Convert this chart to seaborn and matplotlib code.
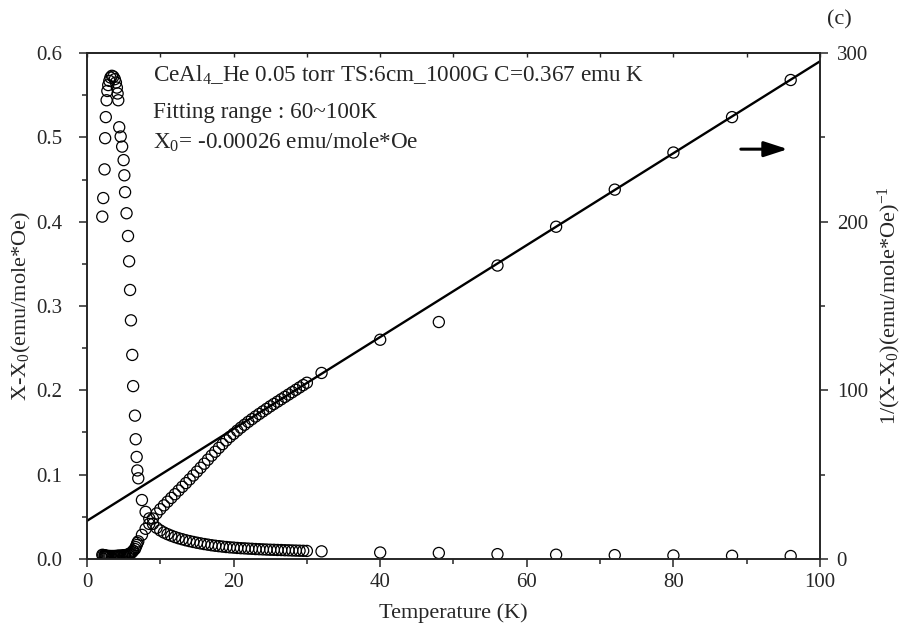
import matplotlib
matplotlib.use("Agg")
import matplotlib.pyplot as plt
import pandas as pd
import seaborn as sns
from matplotlib.ticker import MultipleLocator

# Measured temperatures (K)
temperature = [
    2.09, 2.22, 2.40, 2.48, 2.57, 2.68, 2.78, 2.90, 3.05, 3.20, 3.40, 3.60,
    3.80, 3.95, 4.08, 4.18, 4.27, 4.40, 4.60, 4.80, 5.00, 5.10, 5.20, 5.40,
    5.60, 5.75, 5.88, 6.00, 6.18, 6.30, 6.55, 6.65, 6.78, 6.87, 7.00,
    7.5, 8.0, 8.5, 9.0, 9.5, 10.0, 10.5, 11.0, 11.5, 12.0, 12.5, 13.0, 13.5,
    14.0, 14.5, 15.0, 15.5, 16.0, 16.5, 17.0, 17.5, 18.0, 18.5, 19.0, 19.5,
    20.0, 20.5, 21.0, 21.5, 22.0, 22.5, 23.0, 23.5, 24.0, 24.5, 25.0, 25.5,
    26.0, 26.5, 27.0, 27.5, 28.0, 28.5, 29.0, 29.5, 30.0,
    32.0, 40.0, 48.0, 56.0, 64.0, 72.0, 80.0, 88.0, 96.0,
]

# chi - chi0 (emu/mole*Oe)
chi = [
    0.406, 0.428, 0.462, 0.499, 0.524, 0.544, 0.555, 0.562, 0.567, 0.571, 0.573, 0.572,
    0.569, 0.565, 0.559, 0.552, 0.544, 0.512, 0.501, 0.489, 0.473, 0.455, 0.435, 0.410,
    0.383, 0.353, 0.319, 0.283, 0.242, 0.205, 0.170, 0.142, 0.121, 0.105, 0.0957,
    0.0699, 0.0559, 0.0481, 0.0417, 0.0370, 0.0339, 0.0314, 0.0294, 0.0276, 0.0260,
    0.0246, 0.0234, 0.0222, 0.0212, 0.0202, 0.0193, 0.0185, 0.0177, 0.0170, 0.0163,
    0.0157, 0.0152, 0.0147, 0.0142, 0.0138, 0.0135, 0.0131, 0.0128, 0.0126, 0.0123,
    0.0121, 0.0118, 0.0116, 0.0114, 0.0112, 0.0110, 0.0109, 0.0107, 0.0106, 0.0104,
    0.0103, 0.0101, 0.00997, 0.00983, 0.00970, 0.00957,
    0.00907, 0.00769, 0.00712, 0.00575, 0.00508, 0.00457, 0.00415, 0.00382, 0.00352,
]

# 1/(chi - chi0) (emu/mole*Oe)^-1
inv_chi = [
    2.46, 2.34, 2.16, 2.00, 1.91, 1.84, 1.80, 1.78, 1.76, 1.75, 1.75, 1.75,
    1.76, 1.77, 1.79, 1.81, 1.84, 1.95, 2.00, 2.04, 2.11, 2.20, 2.30, 2.44,
    2.61, 2.83, 3.13, 3.53, 4.13, 4.88, 5.88, 7.04, 8.26, 9.52, 10.45,
    14.3, 17.9, 20.8, 24.0, 27.0, 29.5, 31.8, 34.0, 36.2, 38.4,
    40.6, 42.8, 45.0, 47.2, 49.5, 51.8, 54.1, 56.5, 58.9, 61.3,
    63.6, 65.9, 68.1, 70.3, 72.4, 74.2, 76.1, 77.9, 79.6, 81.3,
    82.9, 84.5, 86.0, 87.5, 89.0, 90.5, 91.9, 93.3, 94.7, 96.1,
    97.5, 98.9, 100.3, 101.7, 103.1, 104.5,
    110.3, 130.0, 140.5, 174.0, 197.0, 219.0, 241.0, 262.0, 284.0,
]

# Curie-Weiss fit parameters
curie_C = 0.367      # emu K / mole
theta_cw = -8.3      # K
fit_T = [0.0, 100.0]

sns.set_theme(style="ticks")
plt.rcParams["font.family"] = ["Liberation Serif", "DejaVu Serif"]
plt.rcParams["mathtext.fontset"] = "custom"
plt.rcParams["mathtext.rm"] = "Liberation Serif"
plt.rcParams["mathtext.it"] = "Liberation Serif:italic"
plt.rcParams["mathtext.default"] = "regular"

df = pd.DataFrame({"T": temperature, "chi": chi, "inv": inv_chi})
fit = pd.DataFrame({"T": fit_T})
fit["inv"] = (fit["T"] - theta_cw) / curie_C

fig = plt.figure(figsize=(9.03, 6.35), dpi=100)
ax = fig.add_axes([0.0963, 0.1197, 0.8118, 0.7968])
ax2 = ax.twinx()

marker_kw = dict(marker="o", s=64, facecolor="none", edgecolor="black", linewidth=0.9)
sns.scatterplot(data=df, x="T", y="chi", ax=ax, **marker_kw)
sns.scatterplot(data=df, x="T", y="inv", ax=ax2, **marker_kw)
sns.lineplot(data=fit, x="T", y="inv", ax=ax2, color="black", linewidth=1.7)

ax.set_xlim(0, 100)
ax.set_ylim(0, 0.6)
ax2.set_ylim(0, 300)

ax.xaxis.set_major_locator(MultipleLocator(20))
ax.xaxis.set_minor_locator(MultipleLocator(10))
ax.yaxis.set_major_locator(MultipleLocator(0.1))
ax.yaxis.set_minor_locator(MultipleLocator(0.05))
ax.yaxis.set_major_formatter(matplotlib.ticker.FormatStrFormatter("%.1f"))
ax2.yaxis.set_major_locator(MultipleLocator(100))
ax2.yaxis.set_minor_locator(MultipleLocator(50))

tick_fs = 15
for a in (ax, ax2):
    a.tick_params(which="major", direction="out", length=6, width=1.1, labelsize=tick_fs, pad=4)
    a.tick_params(which="minor", direction="out", length=3.5, width=1.1)
    for sp in a.spines.values():
        sp.set_linewidth(1.2)
        sp.set_visible(True)
ax.tick_params(axis="y", which="major", pad=12)
ax2.tick_params(axis="y", which="major", pad=6)

top = ax.secondary_xaxis("top")
top.xaxis.set_major_locator(MultipleLocator(20))
top.xaxis.set_minor_locator(MultipleLocator(10))
top.tick_params(which="both", direction="in", length=3, width=1.0, labeltop=False)
top.spines["top"].set_linewidth(1.2)

ax.set_xlabel("Temperature (K)", fontsize=16, labelpad=8)
ax.set_ylabel("X-X$_0$(emu/mole*Oe)", fontsize=16, labelpad=2)
ax2.set_ylabel("1/(X-X$_0$)(emu/mole*Oe)$^{-1}$", fontsize=16, labelpad=6)

text_fs = 16.7
ax.text(9.0, 0.574, "CeAl$_4$_He 0.05 torr TS:6cm_1000G C=0.367 emu K",
        fontsize=text_fs, va="center", ha="left")
ax.text(9.0, 0.530, "Fitting range : 60~100K", fontsize=text_fs, va="center", ha="left")
ax.text(9.0, 0.494, "X$_0$= -0.00026 emu/mole*Oe", fontsize=text_fs, va="center", ha="left")

ax.annotate("", xy=(95.6, 0.486), xytext=(89.2, 0.486),
            arrowprops=dict(arrowstyle="-|>,head_length=0.8,head_width=0.26",
                            color="black", lw=2.2, mutation_scale=18,
                            shrinkA=0, shrinkB=0))

fig.text(0.930, 0.968, "(c)", fontsize=16, ha="center", va="center")

fig.savefig("out.png", dpi=100)
